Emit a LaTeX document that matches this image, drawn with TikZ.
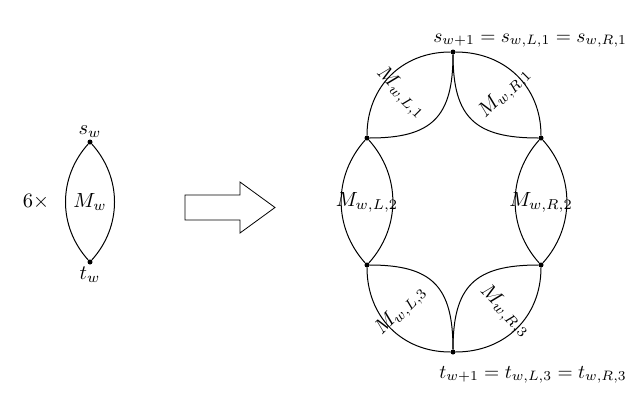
\documentclass[tikz,border=0pt]{standalone}
\begin{document}
\begin{tikzpicture}[x=1pt,y=-1pt,
  dot/.style={circle,fill,inner sep=0pt,minimum size=5pt},
  lbl/.style={scale=2.05,transform shape,inner sep=1pt},
  edge/.style={line width=1pt}]
\useasboundingbox (0,0) rectangle (640,402);
% left
\node[dot] (s) at (90,142) {};
\node[dot] (t) at (90,262) {};
\draw[edge] (s) to[bend right=42] (t);
\draw[edge] (s) to[bend left=42] (t);
\node[lbl,anchor=south] (sl) at (90,140) {$s_w$};
\node[lbl,anchor=north] (tl) at (90,264) {$t_w$};
\node[lbl] (mw) at (90,202) {$M_w$};
\node[lbl] (six) at (36,202) {$6\times$};
% arrow
\draw[line width=0.8pt] (185,195) -- (240,195) -- (240,182) -- (275,207.5) -- (240,233) -- (240,220) -- (185,220) -- cycle;
% right
\node[dot] (T) at (453,52) {};
\node[dot] (UL) at (367,138) {};
\node[dot] (UR) at (541,138) {};
\node[dot] (LL) at (367,265) {};
\node[dot] (LR) at (541,265) {};
\node[dot] (B) at (453,352) {};
\draw[edge] (T) to[out=180,in=90,looseness=1.05] (UL);
\draw[edge] (T) to[out=270,in=0,looseness=1.35] (UL);
\draw[edge] (T) to[out=0,in=90,looseness=1.05] (UR);
\draw[edge] (T) to[out=270,in=180,looseness=1.35] (UR);
\draw[edge] (UL) to[bend right=42] (LL);
\draw[edge] (UL) to[bend left=42] (LL);
\draw[edge] (UR) to[bend right=42] (LR);
\draw[edge] (UR) to[bend left=42] (LR);
\draw[edge] (B) to[out=180,in=270,looseness=1.05] (LL);
\draw[edge] (B) to[out=90,in=0,looseness=1.35] (LL);
\draw[edge] (B) to[out=0,in=270,looseness=1.05] (LR);
\draw[edge] (B) to[out=90,in=180,looseness=1.35] (LR);
\node[lbl,rotate=-45] (ml1) at (401,93) {$M_{w,L,1}$};
\node[lbl,rotate=45] (mr1) at (505,93) {$M_{w,R,1}$};
\node[lbl] (ml2) at (367,202) {$M_{w,L,2}$};
\node[lbl] (mr2) at (541,202) {$M_{w,R,2}$};
\node[lbl,rotate=45] (ml3) at (401,311) {$M_{w,L,3}$};
\node[lbl,rotate=-45] (mr3) at (505,311) {$M_{w,R,3}$};
\node[scale=1.95,inner sep=1pt,anchor=base west] (top) at (431,42) {$s_{w+1}=s_{w,L,1}=s_{w,R,1}$};
\node[scale=1.95,inner sep=1pt,anchor=base west] (bot) at (437,378) {$t_{w+1}=t_{w,L,3}=t_{w,R,3}$};
\end{tikzpicture}
\end{document}
